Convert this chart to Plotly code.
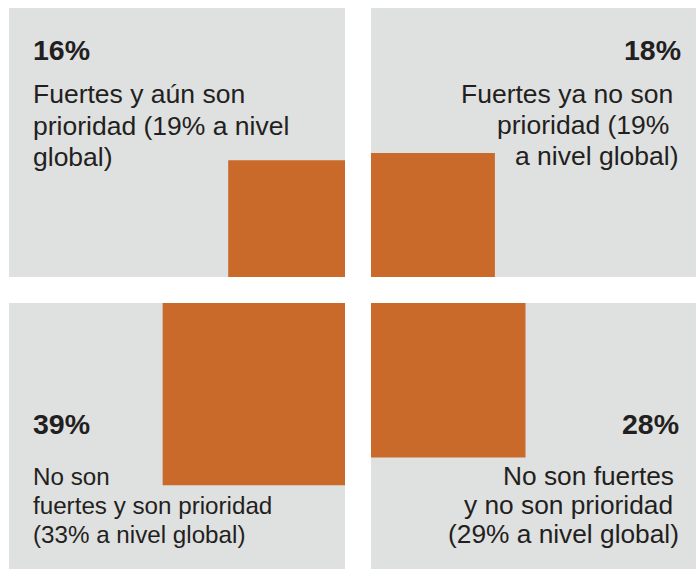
import math
import plotly.graph_objects as go

# ---- data ----
quadrants = ["TL", "TR", "BL", "BR"]
pct_values = [16, 18, 39, 28]
pct_labels = ["16%", "18%", "39%", "28%"]
descriptions = [
    ["Fuertes y aún son", "prioridad (19% a nivel", "global)"],
    ["Fuertes ya no son", "prioridad (19%", "a nivel global)"],
    ["No son", "fuertes y son prioridad", "(33% a nivel global)"],
    ["No son fuertes", "y no son prioridad", "(29% a nivel global)"],
]

# ---- layout / style ----
W, H = 696, 569
GRAY = "#dfe0e0"
ORANGE = "#ca6a2a"
TXT = "#231f20"
FONT = "Liberation Sans"
K = 29.2  # pixels per sqrt(percent)

XL0, XL1, XR0, XR1 = 9, 345, 371, 697
YT0, YT1, YB0, YB1 = 8, 277, 303, 570

panels = {
    "TL": (XL0, XL1, YT0, YT1),
    "TR": (XR0, XR1, YT0, YT1),
    "BL": (XL0, XL1, YB0, YB1),
    "BR": (XR0, XR1, YB0, YB1),
}

text_cfg = {
    # (align, pct_x, pct_baseline, [line x], [line baselines], body size)
    "TL": ("left", 31, 59, [31, 31, 31], [103, 135, 166], 26.5),
    "TR": ("right", 683, 59, [675, 671, 681], [103, 134, 165], 26.5),
    "BL": ("left", 31, 433, [31, 31, 31], [484, 513, 542], 24.2),
    "BR": ("right", 681, 433, [676, 675, 681], [485, 514, 543], 26.3),
}

fig = go.Figure()
shapes = []
for q, (x0, x1, y0, y1) in panels.items():
    shapes.append(dict(type="rect", xref="x", yref="y", x0=x0, x1=x1, y0=y0, y1=y1,
                       fillcolor=GRAY, line=dict(width=0), layer="below"))

for q, v in zip(quadrants, pct_values):
    s = K * math.sqrt(v)
    if q == "TL":
        x0, x1, y0, y1 = XL1 - s, XL1, YT1 - s, YT1
    elif q == "TR":
        x0, x1, y0, y1 = XR0, XR0 + s, YT1 - s, YT1
    elif q == "BL":
        x0, x1, y0, y1 = XL1 - s, XL1, YB0, YB0 + s
    else:
        x0, x1, y0, y1 = XR0, XR0 + s, YB0, YB0 + s
    shapes.append(dict(type="rect", xref="x", yref="y", x0=x0, x1=x1, y0=y0, y1=y1,
                       fillcolor=ORANGE, line=dict(width=0), layer="above"))

annotations = []
PCT_SIZE = 28.5
for q, lab, desc in zip(quadrants, pct_labels, descriptions):
    align, px, pb, lxs, lbs, bsize = text_cfg[q]
    annotations.append(dict(x=px, y=pb - 0.33 * PCT_SIZE, xref="x", yref="y",
                            text="<b>%s</b>" % lab, showarrow=False,
                            xanchor=align, yanchor="middle", align=align,
                            font=dict(family=FONT, size=PCT_SIZE, color=TXT)))
    for line, lx, lb in zip(desc, lxs, lbs):
        annotations.append(dict(x=lx, y=lb - 0.33 * bsize, xref="x", yref="y",
                                text=line, showarrow=False,
                                xanchor=align, yanchor="middle", align=align,
                                font=dict(family=FONT, size=bsize, color=TXT)))

fig.update_layout(
    width=W, height=H, margin=dict(l=0, r=0, t=0, b=0),
    paper_bgcolor="white", plot_bgcolor="white",
    shapes=shapes, annotations=annotations, showlegend=False,
    xaxis=dict(range=[0, W], visible=False, fixedrange=True),
    yaxis=dict(range=[H, 0], visible=False, fixedrange=True),
)
fig.write_html("out.html")
